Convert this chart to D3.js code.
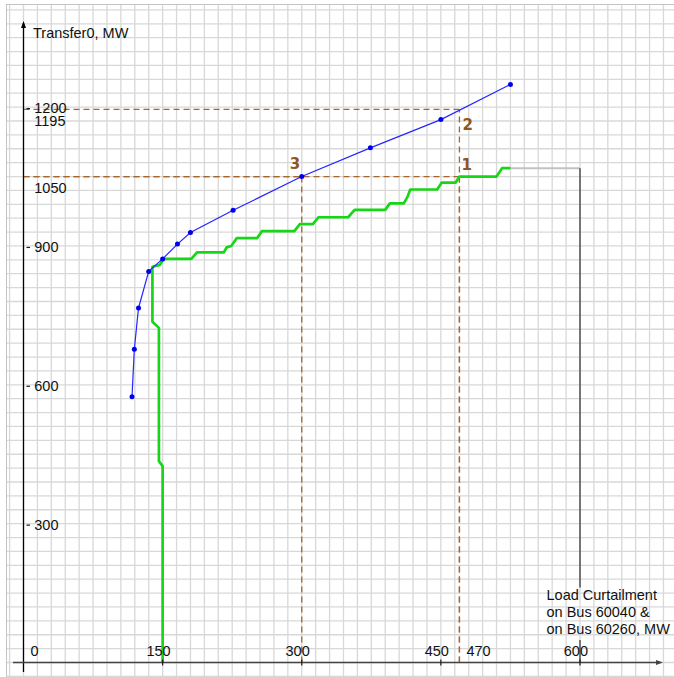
<!DOCTYPE html>
<html>
<head>
<meta charset="utf-8">
<script src="https://cdn.jsdelivr.net/npm/d3@7"></script>
<style>
  html, body { margin: 0; padding: 0; background: #fff; }
  svg { display: block; }
  text { font-family: "Liberation Sans", Arial, sans-serif; font-size: 14.5px; fill: #111; }
  .mark-label { font-family: "DejaVu Sans", sans-serif; font-weight: bold; font-size: 15px; fill: #8f5622; }
</style>
</head>
<body>
<svg id="chart" width="674" height="677"></svg>
<script>
// Transfer capability vs. load curtailment (MW)
const blueCurtail  = [117, 119.5, 124, 135, 150, 166, 180, 226, 300, 374, 450, 525];
const blueTransfer = [574, 677, 766, 845, 872, 904, 929, 977, 1050, 1112, 1173, 1249];

const greenCurtail  = [150, 150, 146, 146, 139, 139, 147, 151, 181, 187, 216, 219, 224, 230, 252, 257,
                       292, 298, 312, 318, 350, 357, 390, 395, 410, 414, 417, 446, 451, 466, 470, 510, 516, 525];
const greenTransfer = [0, 424, 435, 723, 736, 855, 859, 872, 872, 886, 886, 897, 900, 917, 917, 932,
                       932, 947, 947, 962, 962, 978, 978, 992, 992, 1006, 1022, 1022, 1037, 1037, 1050, 1050, 1068, 1068];

// limit extension of the green curve
const capCurtail  = [525, 600];
const capTransfer = 1068;

// marked operating points
const markNames    = ["1", "2", "3"];
const markCurtail  = [470, 470, 300];
const markTransfer = [1050, 1195, 1050];

const xTickValues = [150, 300, 450, 600];
const xExtraLabels = [0, 470];
const yTickValues = [300, 600, 900, 1200];
const yExtraLabels = [1195, 1050];

const yTitle = "Transfer0, MW";
const xTitle = ["Load Curtailment", "on Bus 60040 &", "on Bus 60260, MW"];

const W = 674, H = 677;
const svg = d3.select("#chart");

const x = d3.scaleLinear().domain([0, 600]).range([23.5, 580]);
const y = d3.scaleLinear().domain([0, 1200]).range([662.5, 107.1]);

// background grid (15 MW across, 30 MW up)
const grid = svg.append("g").attr("stroke", "#d8d8d8").attr("stroke-width", 1.3);
d3.range(-15, 720, 15).filter(v => x(v) > 6 && x(v) < W).forEach(v => {
  grid.append("line").attr("x1", x(v)).attr("x2", x(v)).attr("y1", 5).attr("y2", H);
});
d3.range(-30, 1500, 30).filter(v => y(v) > 5 && y(v) < H).forEach(v => {
  grid.append("line").attr("y1", y(v)).attr("y2", y(v)).attr("x1", 7).attr("x2", W);
});
svg.append("rect").attr("x", 6.5).attr("y", 4.5).attr("width", W).attr("height", H)
  .attr("fill", "none").attr("stroke", "#c4c4c4").attr("stroke-width", 1);

// dashed guide lines to the marked points
const guides = svg.append("g").attr("stroke", "#a6672f").attr("stroke-width", 1.3)
  .attr("stroke-dasharray", "6,4").attr("fill", "none");
markNames.forEach((n, i) => {
  guides.append("line").attr("x1", x(0)).attr("x2", x(markCurtail[i]))
    .attr("y1", y(markTransfer[i])).attr("y2", y(markTransfer[i]));
  guides.append("line").attr("x1", x(markCurtail[i])).attr("x2", x(markCurtail[i]))
    .attr("y1", y(0)).attr("y2", y(markTransfer[i]));
});

// x-axis title (three lines)
const title = svg.append("text").attr("x", 546.5).attr("y", 599.5);
xTitle.forEach((t, i) => {
  title.append("tspan").attr("x", 546.5).attr("dy", i === 0 ? 0 : 17.3).text(t);
});
const tb = title.node().getBBox();

// cap line of the green curve
svg.append("line").attr("x1", x(capCurtail[0])).attr("x2", x(capCurtail[1]))
  .attr("y1", y(capTransfer)).attr("y2", y(capTransfer))
  .attr("stroke", "#c2c2c2").attr("stroke-width", 2);
svg.append("line").attr("x1", x(capCurtail[1])).attr("x2", x(capCurtail[1]))
  .attr("y1", y(capTransfer)).attr("y2", tb.y + 1)
  .attr("stroke", "#2a2a2a").attr("stroke-width", 1.2);
svg.append("line").attr("x1", x(capCurtail[1])).attr("x2", x(capCurtail[1]))
  .attr("y1", tb.y + tb.height + 3).attr("y2", y(0))
  .attr("stroke", "#2a2a2a").attr("stroke-width", 1.2);

// green step curve
const green = greenCurtail.map((c, i) => [c, greenTransfer[i]]);
svg.append("path").datum(green)
  .attr("d", d3.line().x(d => x(d[0])).y(d => y(d[1])))
  .attr("fill", "none").attr("stroke", "#17d617").attr("stroke-width", 2.7)
  .attr("stroke-linejoin", "round");

// blue curve with points
const blue = blueCurtail.map((c, i) => [c, blueTransfer[i]]);
svg.append("path").datum(blue)
  .attr("d", d3.line().x(d => x(d[0])).y(d => y(d[1])))
  .attr("fill", "none").attr("stroke", "#2626ff").attr("stroke-width", 1.2);
svg.append("g").selectAll("circle").data(blue).join("circle")
  .attr("cx", d => x(d[0])).attr("cy", d => y(d[1])).attr("r", 2.5).attr("fill", "#0000f0");

// axes
const axisColor = "#1a1a1a";
svg.append("line").attr("x1", x(0)).attr("x2", x(0)).attr("y1", y(0) + 9.5).attr("y2", 23)
  .attr("stroke", "#000").attr("stroke-width", 1.3);
svg.append("path").attr("d", `M${x(0)},21 L${x(0) - 2.5},28 L${x(0) + 2.5},28 Z`).attr("fill", "#000");
svg.append("line").attr("x1", 13).attr("x2", 660).attr("y1", y(0)).attr("y2", y(0))
  .attr("stroke", "#444").attr("stroke-width", 1.3);
svg.append("path").attr("d", `M663,${y(0)} L656,${y(0) - 2.5} L656,${y(0) + 2.5} Z`).attr("fill", "#444");

// x ticks and labels
xTickValues.forEach(v => {
  svg.append("line").attr("x1", x(v)).attr("x2", x(v)).attr("y1", y(0) - 3).attr("y2", y(0) + 3)
    .attr("stroke", axisColor).attr("stroke-width", 1.2);
  svg.append("text").attr("x", x(v) + 8).attr("y", y(0) - 6.5).attr("text-anchor", "end").text(v);
});
xExtraLabels.forEach(v => {
  svg.append("text").attr("x", x(v) + 7).attr("y", y(0) - 6.5).text(v);
});

// y ticks and labels
yTickValues.forEach(v => {
  svg.append("line").attr("x1", x(0) + 3).attr("x2", x(0) + 6.5)
    .attr("y1", y(v) + 1.5).attr("y2", y(v) + 1.5).attr("stroke", axisColor).attr("stroke-width", 1.2);
  svg.append("text").attr("x", x(0) + 10.8).attr("y", y(v) + 5.9).text(v);
});
yExtraLabels.forEach(v => {
  svg.append("text").attr("x", x(0) + 10.8).attr("y", y(v) + 16.3).text(v);
});

svg.append("text").attr("x", 33).attr("y", 38.3).text(yTitle);

// marked point labels
const markOffsets = [[2, -6.5], [3, 21], [-12, -8]];
markNames.forEach((n, i) => {
  svg.append("text").attr("class", "mark-label")
    .attr("x", x(markCurtail[i]) + markOffsets[i][0])
    .attr("y", y(markTransfer[i]) + markOffsets[i][1])
    .text(n);
});
</script>
</body>
</html>
